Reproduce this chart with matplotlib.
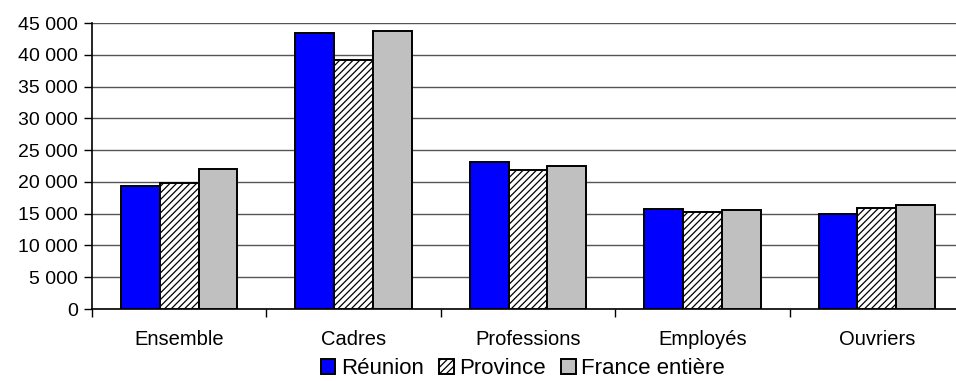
import numpy as np
import matplotlib.pyplot as plt
from matplotlib.ticker import FuncFormatter

# Salaire moyen par catégorie
categories = ["Ensemble", "Cadres", "Professions", "Employés", "Ouvriers"]
series_names = ["Réunion", "Province", "France entière"]
reunion = [19400, 43500, 23100, 15700, 15000]
province = [19800, 39100, 21900, 15300, 15900]
france = [22100, 43700, 22500, 15600, 16400]
y_ticks = list(range(0, 45001, 5000))

plt.rcParams['font.family'] = ['Liberation Sans', 'DejaVu Sans']
plt.rcParams['hatch.linewidth'] = 0.9
plt.rcParams['hatch.color'] = '#555555'

W, H = 956, 381
fig = plt.figure(figsize=(W/100, H/100), dpi=100)
ax = fig.add_axes([92/W, (H-309)/H, (964-92)/W, (309-23)/H])

x = np.arange(len(categories))
bw = 1/4.5
styles = [dict(color='#0000FF'),
          dict(color='white', hatch='/////'),
          dict(color='#C0C0C0')]
handles = []
for i, (vals, st) in enumerate(zip([reunion, province, france], styles)):
    b = ax.bar(x + (i-1)*bw, vals, bw, edgecolor='black', linewidth=1.4,
               label=series_names[i], zorder=3, **st)
    handles.append(b)

ax.set_xlim(-0.5, len(categories)-0.5)
ax.set_ylim(0, 45000)
ax.set_yticks(y_ticks)
ax.yaxis.set_major_formatter(FuncFormatter(lambda v, p: f"{int(v):,}".replace(",", " ")))
ax.yaxis.grid(True, color='#555555', linewidth=1.0, zorder=0)

# category labels between boundary ticks
ax.set_xticks(np.arange(-0.5, len(categories), 1.0))
ax.set_xticklabels([])
ax.set_xticks(x, minor=True)
ax.set_xticklabels(categories, minor=True, fontsize=14.5)
ax.tick_params(axis='x', which='minor', length=0, pad=15)
ax.tick_params(axis='x', which='major', length=6, width=1, direction='out')
ax.tick_params(axis='y', length=6, width=1, labelsize=14, pad=4)

for s in ['top', 'right']:
    ax.spines[s].set_visible(False)
ax.spines['left'].set_linewidth(1.2)
ax.spines['bottom'].set_linewidth(1.2)

fig.legend(handles=handles, loc='center', bbox_to_anchor=(523/W, 1-369/H),
           ncol=3, frameon=False, fontsize=16, handlelength=0.65, handleheight=0.65,
           handletextpad=0.25, columnspacing=0.7, borderaxespad=0)

fig.savefig("out.png", dpi=100)
